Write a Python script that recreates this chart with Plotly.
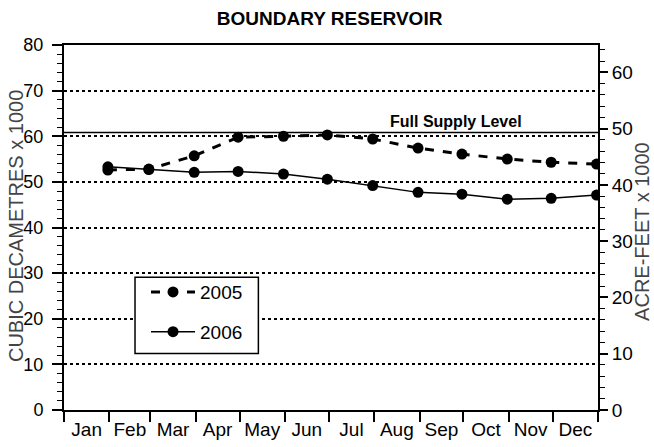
import plotly.graph_objects as go

months = ['Jan', 'Feb', 'Mar', 'Apr', 'May', 'Jun', 'Jul', 'Aug', 'Sep', 'Oct', 'Nov', 'Dec']
dates = ['2005-01-31', '2005-02-28', '2005-03-31', '2005-04-30', '2005-05-31', '2005-06-30',
         '2005-07-31', '2005-08-31', '2005-09-30', '2005-10-31', '2005-11-30', '2005-12-31']
vol_2005 = [52.6, 52.8, 55.7, 59.8, 60.0, 60.3, 59.4, 57.4, 56.1, 55.0, 54.3, 53.9]
vol_2006 = [53.3, 52.7, 52.1, 52.3, 51.7, 50.6, 49.2, 47.7, 47.3, 46.2, 46.4, 47.1]
full_supply_level = 60.8
DAM3_PER_ACFT = 1.2335
y_max = 80

FONT = "Liberation Sans, Arial, sans-serif"

fig = go.Figure()
fig.add_trace(go.Scatter(
    x=dates, y=vol_2005, name='2005', mode='lines+markers',
    line=dict(color='black', width=3, dash='9px,9px'),
    marker=dict(color='black', size=11), legendgroup='a'))
fig.add_trace(go.Scatter(
    x=dates, y=vol_2006, name='2006', mode='lines+markers',
    line=dict(color='black', width=1.5),
    marker=dict(color='black', size=11), legendgroup='b'))
# invisible trace to activate right axis
fig.add_trace(go.Scatter(x=[dates[0]], y=[0], yaxis='y2', showlegend=False,
                         mode='markers', marker=dict(opacity=0), hoverinfo='skip'))

fig.add_shape(type='line', xref='paper', x0=0, x1=1, yref='y',
              y0=full_supply_level, y1=full_supply_level,
              line=dict(color='black', width=1.5))
# legend frame
fig.add_shape(type='rect', xref='paper', yref='paper', x0=0.133, x1=0.364,
              y0=0.155, y1=0.3636, fillcolor='white', layer='above',
              line=dict(color='black', width=1.5))
fig.add_annotation(text='<b>Full Supply Level</b>', xref='paper', x=0.735,
                   xanchor='center', yref='y', y=full_supply_level,
                   yanchor='bottom', yshift=1,
                   showarrow=False, font=dict(family=FONT, size=16, color='black'))
fig.add_annotation(text='CUBIC DECAMETRES x 1000', xref='paper', x=-0.0899,
                   yref='paper', y=0.504, textangle=-90, showarrow=False,
                   xanchor='center', yanchor='middle',
                   font=dict(family=FONT, size=20, color='#444444'))
fig.add_annotation(text='ACRE-FEET x 1000', xref='paper', x=1.0824,
                   yref='paper', y=0.488, textangle=-90, showarrow=False,
                   xanchor='center', yanchor='middle',
                   font=dict(family=FONT, size=20, color='#444444'))

fig.update_layout(
    width=654, height=447,
    margin=dict(l=64, r=56, t=45, b=37, autoexpand=False),
    paper_bgcolor='white', plot_bgcolor='white',
    font=dict(family=FONT, size=18, color='black'),
    title=dict(text='<b>BOUNDARY RESERVOIR</b>', x=0.504, xanchor='center',
               yref='container', y=0.96, yanchor='middle',
               font=dict(family=FONT, size=19, color='black')),
    xaxis=dict(type='date', range=['2005-01-01', '2006-01-01'],
               tick0='2005-01-01', dtick='M1', tickformat='%b',
               ticklabelmode='period', ticks='outside', ticklen=10,
               ticklabelstandoff=-9,
               tickwidth=1.5, tickcolor='black', automargin=False,
               showline=True, linecolor='black', linewidth=2, mirror=True,
               showgrid=False, tickfont=dict(size=19)),
    yaxis=dict(range=[0, y_max], dtick=10, tick0=0, ticks='outside', ticklen=10,
               ticklabelstandoff=5,
               tickwidth=1.5, tickcolor='black', automargin=False,
               minor=dict(dtick=2, ticks='outside', ticklen=5, tickcolor='black', tickwidth=1),
               showline=True, linecolor='black', linewidth=2,
               showgrid=True, gridcolor='black', griddash='dot', gridwidth=1.5,
               zeroline=False, tickfont=dict(size=18)),
    yaxis2=dict(range=[0, y_max / DAM3_PER_ACFT], overlaying='y', side='right',
                dtick=10, tick0=0, ticks='outside', ticklen=8, automargin=False,
                tickwidth=1.5, tickcolor='black',
                minor=dict(dtick=2, ticks='outside', ticklen=5, tickcolor='black', tickwidth=1),
                showline=True, linecolor='black', linewidth=2,
                showgrid=False, zeroline=False, tickfont=dict(size=19)),
    showlegend=True,
    legend=dict(x=0.1536, y=0.375, xanchor='left', yanchor='top',
                borderwidth=0, bgcolor='rgba(0,0,0,0)',
                font=dict(size=19), tracegroupgap=12, itemwidth=44),
)

fig.write_html('out.html', config={'displayModeBar': False},
               post_script="document.body.style.margin='0';"
                           "document.body.style.overflow='hidden';")
